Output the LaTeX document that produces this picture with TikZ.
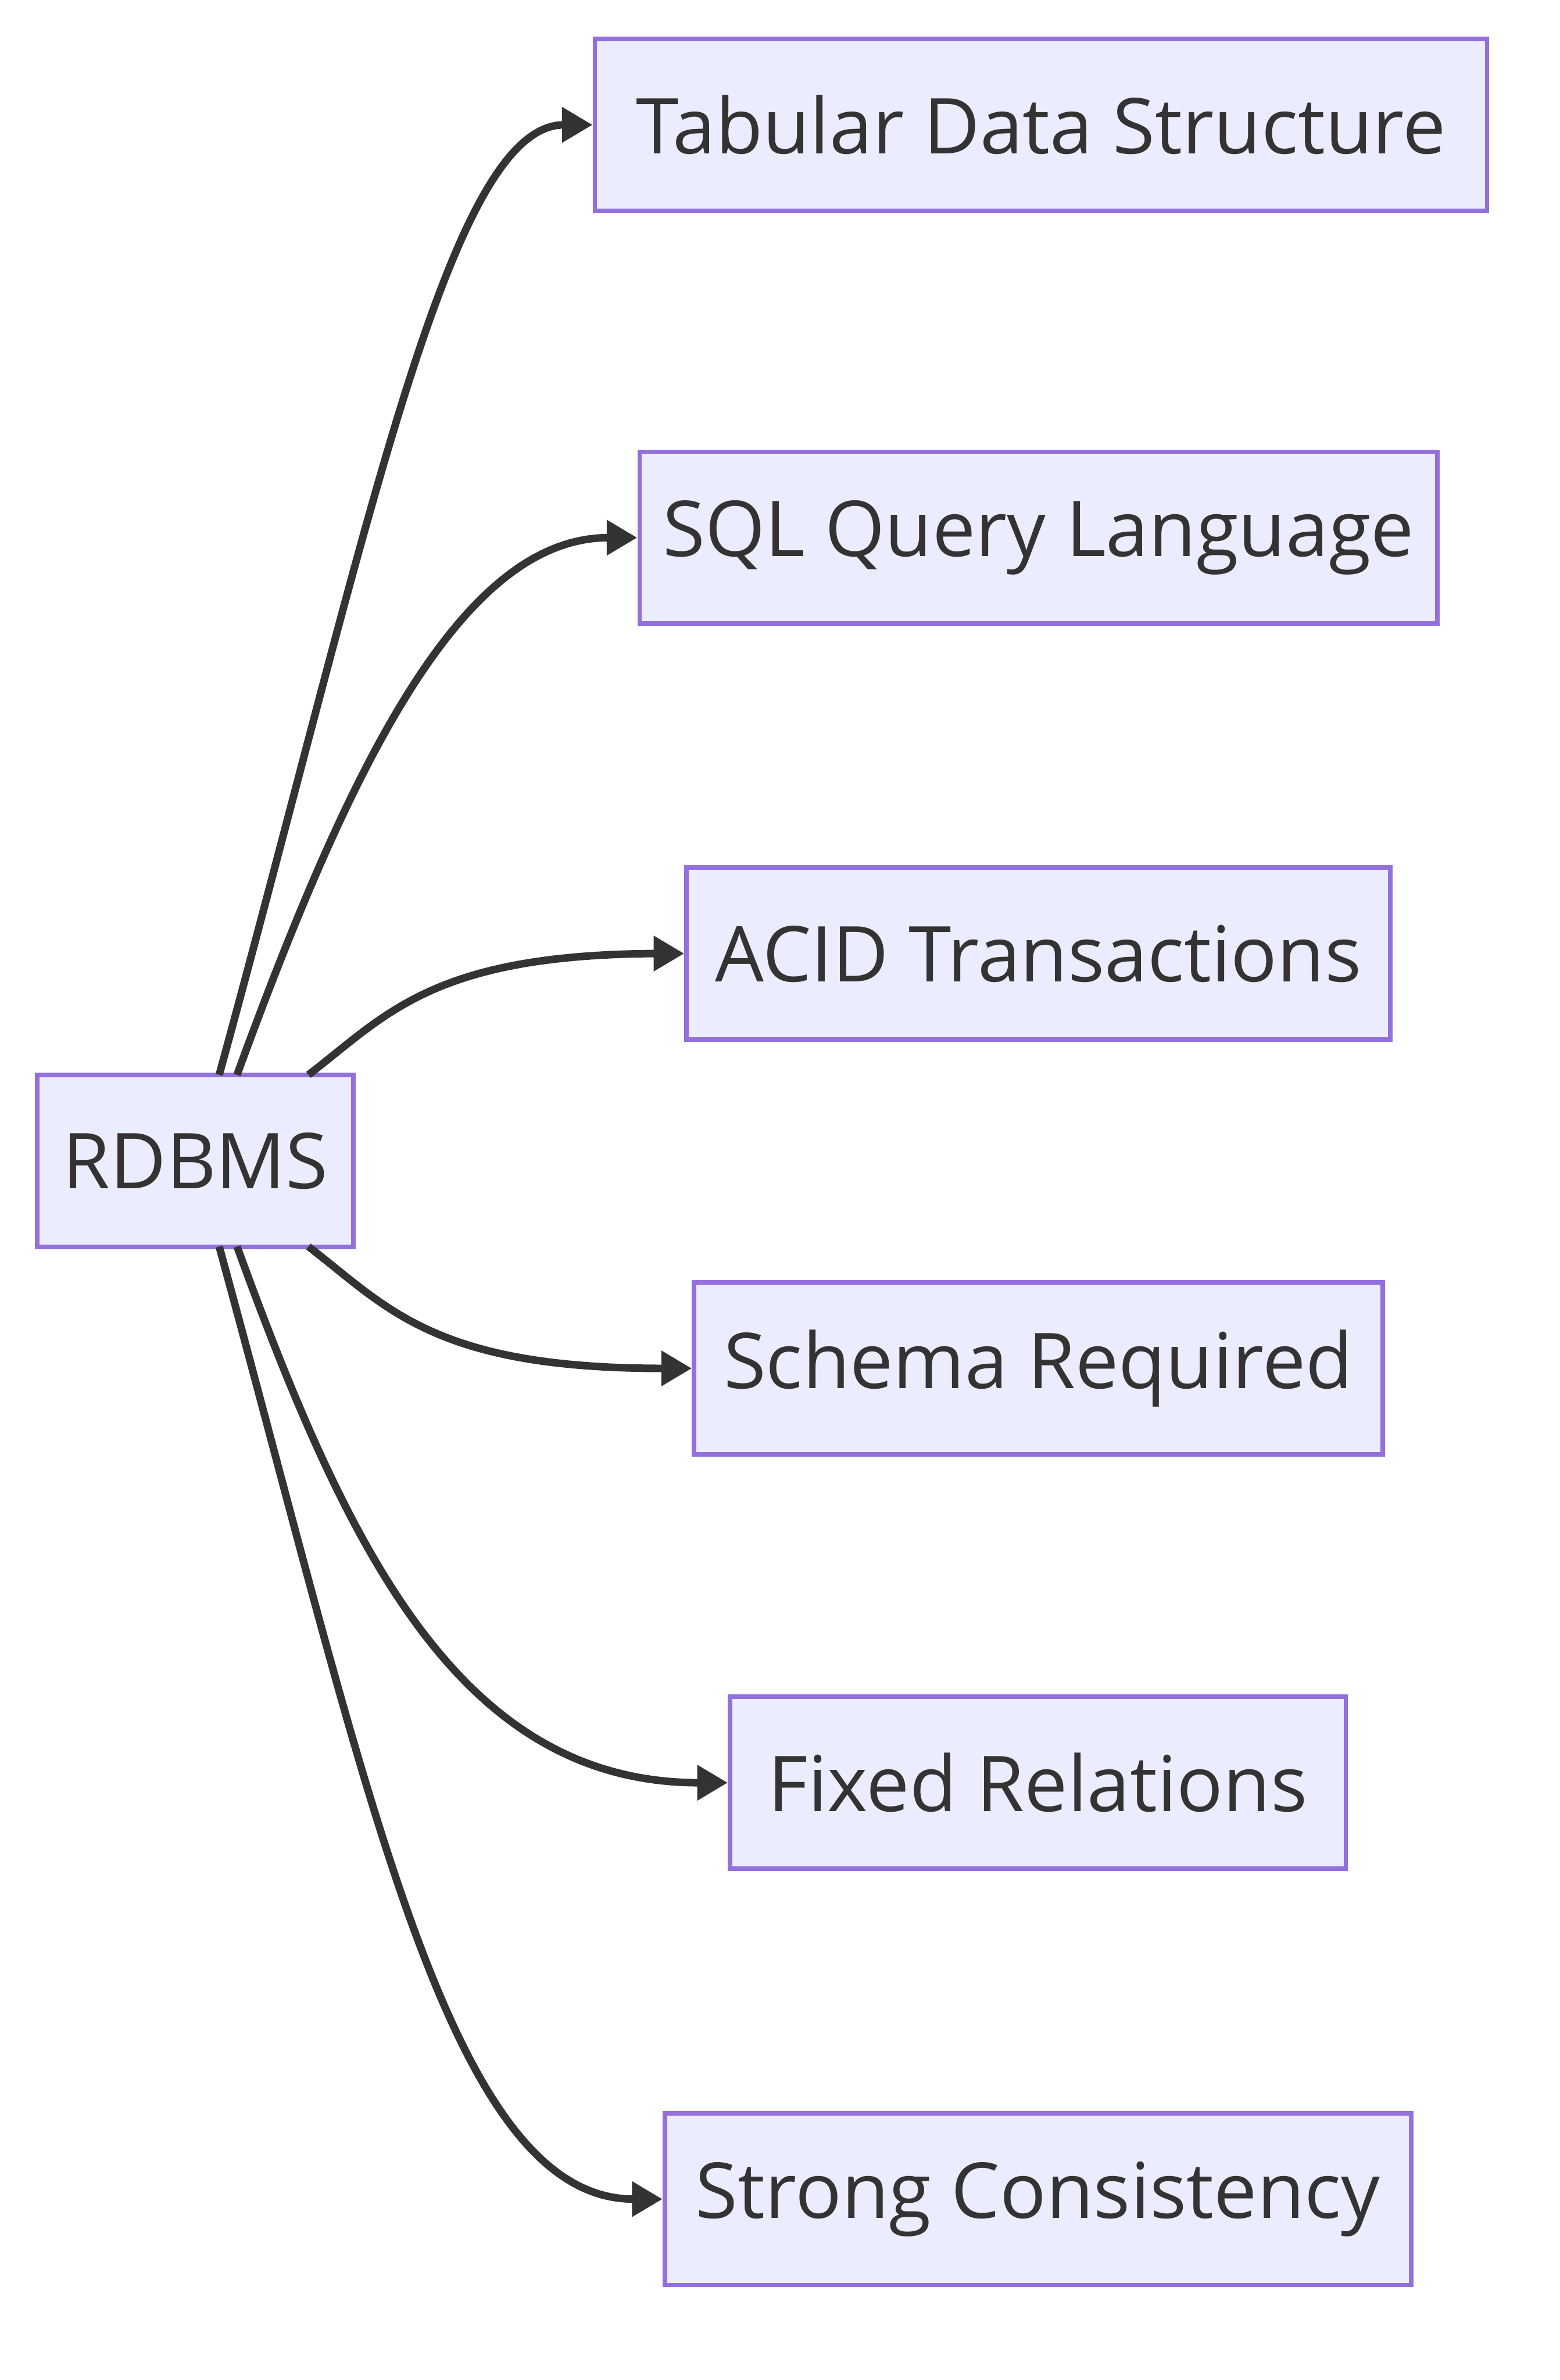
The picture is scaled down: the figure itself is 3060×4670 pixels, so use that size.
\documentclass[tikz,border=0pt]{standalone}
\usepackage{fontspec}
\setmainfont{Open Sans}
\usetikzlibrary{arrows.meta}
\definecolor{nodefill}{HTML}{ECECFF}
\definecolor{nodeborder}{HTML}{9370DB}
\definecolor{edgecol}{HTML}{333333}
\begin{document}
\begin{tikzpicture}[x=0.01cm,y=-0.01cm,
  box/.style={draw=nodeborder,fill=nodefill,line width=2.5pt,minimum height=3.37cm,
    inner sep=0pt,text=edgecol,font=\fontsize{43}{52}\selectfont},
  link/.style={draw=edgecol,line width=4.2pt,-{Triangle[length=0.6cm,width=0.66cm]}}]
\useasboundingbox (0,0) rectangle (3060,4670);
\node[box,minimum width=6.2cm] (r) at (383,2278) {RDBMS};
\node[box,minimum width=17.49cm] (t) at (2042,245) {Tabular Data Structure};
\node[box,minimum width=15.64cm] (s) at (2037,1055) {SQL Query Language};
\node[box,minimum width=13.80cm] (a) at (2037,1871) {ACID Transactions};
\node[box,minimum width=13.50cm] (c) at (2037,2685) {Schema Required};
\node[box,minimum width=12.07cm] (f) at (2036,3498) {Fixed Relations};
\node[box,minimum width=14.63cm] (g) at (2036,4315) {Strong Consistency};
\coordinate (t0) at (430,2109);
\coordinate (s0) at (465,2109);
\coordinate (a0) at (605,2109);
\coordinate (c0) at (605,2446);
\coordinate (f0) at (465,2446);
\coordinate (g0) at (430,2446);
\draw[link] (t0) .. controls (720,1050) and (880,245) .. (t.west);
\draw[link] (s0) .. controls (680,1520) and (900,1055) .. (s.west);
\draw[link] (a0) .. controls (760,1990) and (850,1871) .. (1300,1871) -- (a.west);
\draw[link] (c0) .. controls (760,2565) and (850,2685) .. (1300,2685) -- (c.west);
\draw[link] (f0) .. controls (680,3036) and (900,3498) .. (f.west);
\draw[link] (g0) .. controls (720,3506) and (880,4315) .. (g.west);
\end{tikzpicture}
\end{document}
